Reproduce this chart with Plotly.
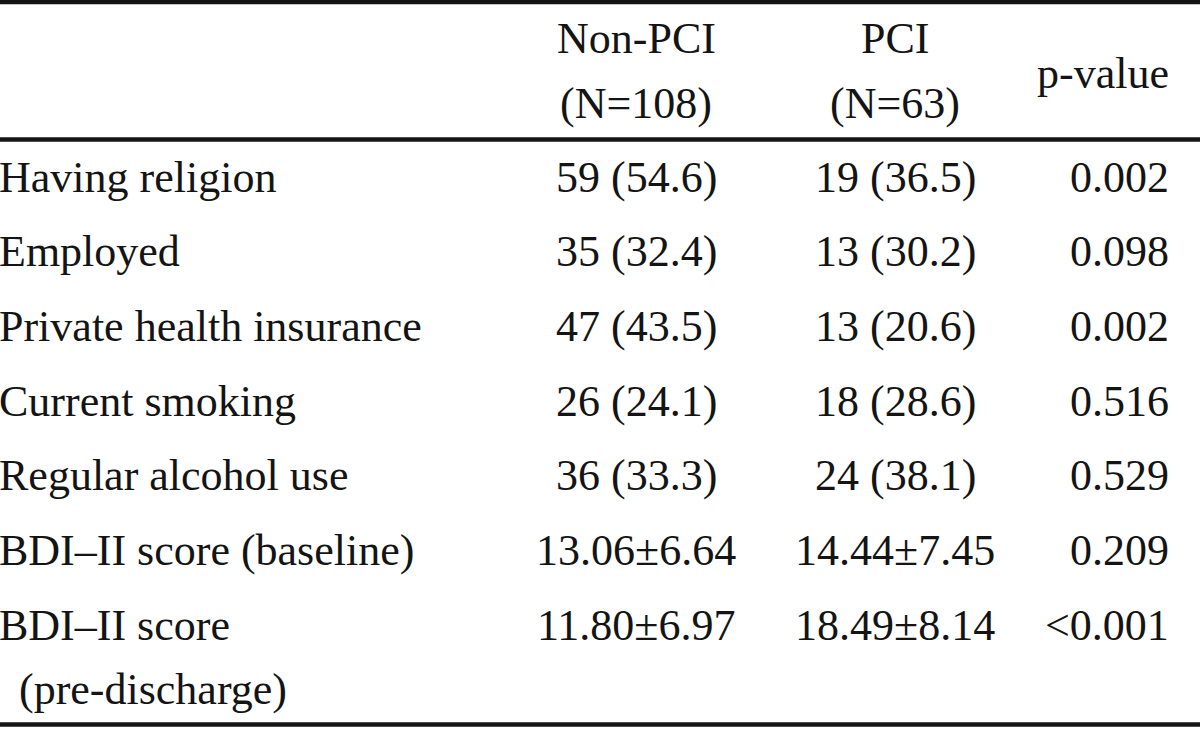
import plotly.graph_objects as go

# ---- data ----
header_groups = ["Non-PCI", "PCI", "p-value"]
header_counts = ["(N=108)", "(N=63)", ""]
row_labels = [
    "Having religion",
    "Employed",
    "Private health insurance",
    "Current smoking",
    "Regular alcohol use",
    "BDI\u2013II score (baseline)",
    "BDI\u2013II score",
]
row_label_extra = ["", "", "", "", "", "", "(pre-discharge)"]
non_pci = ["59 (54.6)", "35 (32.4)", "47 (43.5)", "26 (24.1)", "36 (33.3)",
           "13.06\u00b16.64", "11.80\u00b16.97"]
pci = ["19 (36.5)", "13 (30.2)", "13 (20.6)", "18 (28.6)", "24 (38.1)",
       "14.44\u00b17.45", "18.49\u00b18.14"]
p_values = ["0.002", "0.098", "0.002", "0.516", "0.529", "0.209", "<0.001"]

# ---- layout constants ----
W, H = 1200, 729
FONT = dict(family="Liberation Serif, Times New Roman, serif", size=44, color="#141414")
col_x = {"label": 0, "non": 636, "pci": 895, "p": 1168}
row_y0, row_dy = 177, 74.7
extra_dy = 64
header_y1, header_y2, header_pv = 38, 103, 73

fig = go.Figure()
fig.add_trace(go.Scatter(x=[0, W], y=[0, H], mode="markers",
                         marker=dict(opacity=0), hoverinfo="skip", showlegend=False))

ann = []
def add(text, x, y, anchor):
    shift = {"left": -3, "right": 3, "center": 0}[anchor]
    ann.append(dict(text=text, x=x, y=y, xref="x", yref="y", xshift=shift,
                    xanchor=anchor, yanchor="middle", showarrow=False, font=FONT))

# headers
add(header_groups[0], col_x["non"], header_y1, "center")
add(header_counts[0], col_x["non"], header_y2, "center")
add(header_groups[1], col_x["pci"], header_y1, "center")
add(header_counts[1], col_x["pci"], header_y2, "center")
add(header_groups[2], col_x["p"], header_pv, "right")

for i, lab in enumerate(row_labels):
    y = row_y0 + i * row_dy
    add(lab, col_x["label"], y, "left")
    add(non_pci[i], col_x["non"], y, "center")
    add(pci[i], col_x["pci"], y, "center")
    add(p_values[i], col_x["p"], y, "right")
    if row_label_extra[i]:
        add(row_label_extra[i], col_x["label"] + 20, y + extra_dy, "left")

rule = dict(color="#141414", width=4.5)
shapes = [
    dict(type="line", x0=0, x1=W, y0=2, y1=2, xref="x", yref="y", line=rule),
    dict(type="line", x0=0, x1=W, y0=139.5, y1=139.5, xref="x", yref="y", line=rule),
    dict(type="line", x0=0, x1=W, y0=724.5, y1=724.5, xref="x", yref="y", line=rule),
]

fig.update_layout(
    width=W, height=H, margin=dict(l=0, r=0, t=0, b=0),
    paper_bgcolor="white", plot_bgcolor="white",
    xaxis=dict(range=[0, W], visible=False, fixedrange=True),
    yaxis=dict(range=[H, 0], visible=False, fixedrange=True),
    annotations=ann, shapes=shapes,
)

fig.write_html("out.html", config={"displayModeBar": False},
               post_script="document.body.style.margin='0';")
